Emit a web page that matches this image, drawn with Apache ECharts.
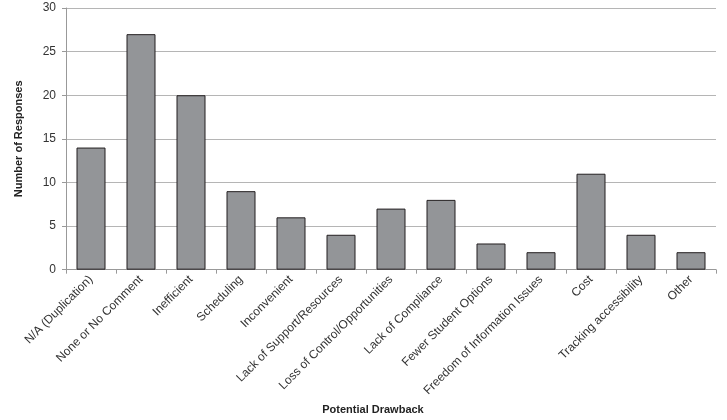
<!DOCTYPE html>
<html><head><meta charset="utf-8">
<script src="https://cdn.jsdelivr.net/npm/echarts@6/dist/echarts.min.js"></script>
<style>html,body{margin:0;padding:0;background:#fff}#c{width:727px;height:420px}</style>
</head><body><div id="c"></div>
<script>
const categories = ["N/A (Duplication)","None or No Comment","Inefficient","Scheduling","Inconvenient","Lack of Support/Resources","Loss of Control/Opportunities","Lack of Compliance","Fewer Student Options","Freedom of Information Issues","Cost","Tracking accessibility","Other"];
const responses = [14,27,20,9,6,4,7,8,3,2,11,4,2];
const yTicks = [0,5,10,15,20,25,30];

const chart = echarts.init(document.getElementById('c'), null, {renderer:'canvas'});
chart.setOption({
  animation:false,
  backgroundColor:'#fff',
  grid:{left:66,right:11,top:8,bottom:146,containLabel:false},
  xAxis:{
    type:'category', data:categories,
    name:'Potential Drawback', nameLocation:'middle', nameGap:134,
    nameTextStyle:{fontFamily:'Liberation Sans, Arial',fontWeight:'bold',fontSize:11,color:'#222',padding:[0,36,0,0]},
    axisLine:{lineStyle:{color:'#999',width:1}},
    axisTick:{show:true,length:4,lineStyle:{color:'#999'}},
    axisLabel:{rotate:45,interval:0,fontFamily:'Liberation Sans, Arial',fontSize:12,color:'#333',margin:8}
  },
  yAxis:{
    type:'value', min:yTicks[0], max:yTicks[yTicks.length-1], interval:5,
    name:'Number of Responses', nameLocation:'middle', nameGap:42,
    nameTextStyle:{fontFamily:'Liberation Sans, Arial',fontWeight:'bold',fontSize:11,color:'#222'},
    axisLine:{show:true,lineStyle:{color:'#999'}},
    axisTick:{show:true,length:4,lineStyle:{color:'#999'}},
    axisLabel:{fontFamily:'Liberation Sans, Arial',fontSize:12,color:'#333',margin:10},
    splitLine:{lineStyle:{color:'#b5b5b5',width:1}}
  },
  series:[{
    type:'bar', data:responses, barWidth:'58%',
    itemStyle:{color:'#939598',borderColor:'#231f20',borderWidth:1}
  }]
});
</script></body></html>
